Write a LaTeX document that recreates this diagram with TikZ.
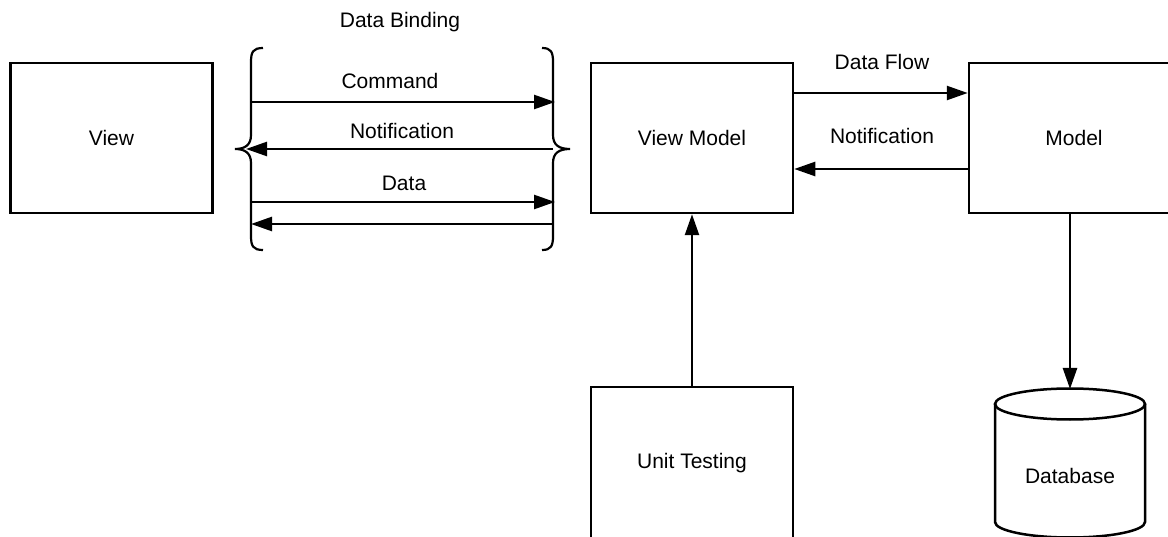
\documentclass[tikz,border=0pt]{standalone}
\usepackage{fontspec}
\setmainfont{Liberation Sans}
\usetikzlibrary{arrows.meta}
\begin{document}
\begin{tikzpicture}[x=1pt,y=-1pt,line width=2.5pt,
  txt/.style={font=\fontsize{21}{25}\selectfont},
  box/.style={draw,line width=2.5pt,minimum width=202pt,minimum height=150pt,inner sep=0pt,txt},
  lbl/.style={inner sep=0pt,txt},
  arr/.style={-{Triangle[length=21pt,width=14pt]}},
  brace/.style={line width=2.2pt}]
\useasboundingbox (0,0) rectangle (1168,537);
\clip (0,0) rectangle (1168,537);
% boxes
\node[box] (view) at (111.5,138) {View};
\node[box] (vm) at (692,138) {View Model};
\node[box,minimum width=210pt] (model) at (1074,138) {Model};
\node[box,minimum height=152pt] (ut) at (692,463) {Unit Testing};
% database cylinder
\draw (1070,404) ellipse[x radius=75,y radius=15.5];
\draw (995,404) -- (995,522) arc[start angle=180,end angle=360,x radius=75,y radius=-15.5] -- (1145,404);
\node[lbl] (db) at (1070,476) {Database};
\coordinate (dbtop) at (1070,389);
% braces
\draw[brace] (263,48) .. controls (253,48) and (251,52) .. (251,62) -- (251,135) .. controls (251,145) and (245,149) .. (235,149) .. controls (245,149) and (251,153) .. (251,163) -- (251,236) .. controls (251,246) and (253,250) .. (263,250);
\draw[brace] (542,48) .. controls (551,48) and (553,52) .. (553,62) -- (553,135) .. controls (553,145) and (559,149) .. (570,149) .. controls (559,149) and (553,153) .. (553,163) -- (553,236) .. controls (553,246) and (551,250) .. (542,250);
\coordinate (l1) at (251,102); \coordinate (r1) at (555,102);
\coordinate (l2) at (246,149); \coordinate (r2) at (553,149);
\coordinate (l3) at (251,202); \coordinate (r3) at (555,202);
\coordinate (l4) at (251,224); \coordinate (r4) at (553,224);
\draw[arr] (l1) -- (r1);
\draw[arr] (r2) -- (l2);
\draw[arr] (l3) -- (r3);
\draw[arr] (r4) -- (l4);
% labels
\node[lbl] (dbind) at (400,22) {Data Binding};
\node[lbl] (cmd) at (390,81) {Command};
\node[lbl] (notif1) at (402,131) {Notification};
\node[lbl] (data) at (404,183) {Data};
\node[lbl] (dflow) at (882,62) {Data Flow};
\node[lbl] (notif2) at (882,136) {Notification};
% connectors
\draw[arr] ([yshift=45pt]vm.east) -- ([yshift=45pt]model.west);
\draw[arr] ([yshift=-31pt]model.west) -- ([yshift=-31pt]vm.east);
\draw[arr] (ut.north) -- (vm.south);
\draw[arr] (model.south -| dbtop) -- (dbtop);
\end{tikzpicture}
\end{document}
